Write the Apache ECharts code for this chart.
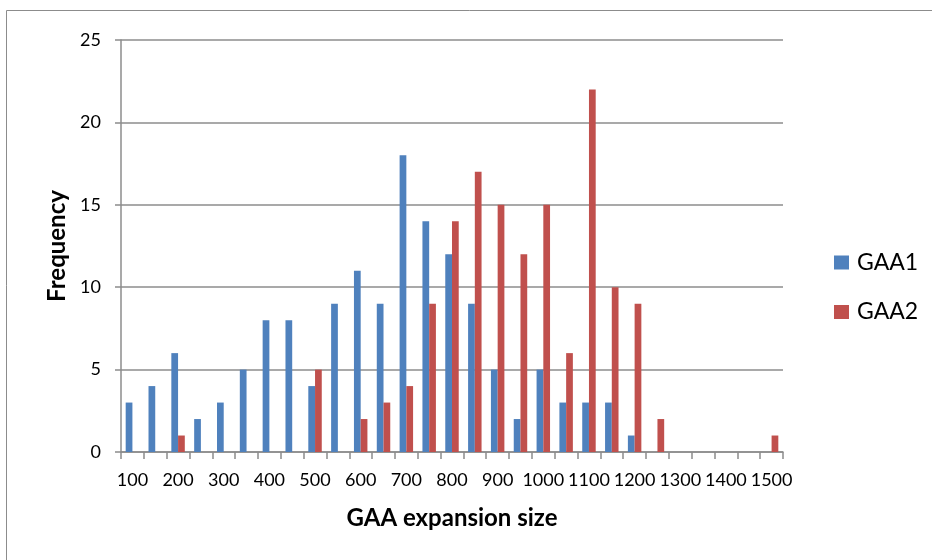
<!DOCTYPE html>
<html>
<head>
<meta charset="utf-8">
<script src="https://cdn.jsdelivr.net/npm/echarts@6/dist/echarts.min.js"></script>
<style>
  html, body { margin: 0; padding: 0; background: #fff; }
  #chart { width: 932px; height: 560px; }
</style>
</head>
<body>
<div id="chart"></div>
<script>
// GAA repeat expansion size bins (step of 50)
const sizes = ['100','150','200','250','300','350','400','450','500','550','600','650','700','750',
  '800','850','900','950','1000','1050','1100','1150','1200','1250','1300','1350','1400','1450','1500'];

// Frequency of each size for the two alleles
const gaa1 = [3, 4, 6, 2, 3, 5, 8, 8, 4, 9, 11, 9, 18, 14, 12, 9, 5, 2, 5, 3, 3, 3, 1, 0, 0, 0, 0, 0, 0];
const gaa2 = [0, 0, 1, 0, 0, 0, 0, 0, 5, 0, 2, 3, 4, 9, 14, 17, 15, 12, 15, 6, 22, 10, 9, 2, 0, 0, 0, 0, 1];

const yTicks = { min: 0, max: 25, step: 5 };

const font = 'Lato, "Open Sans", "Liberation Sans", sans-serif';
const gray = '#8c8c8c';

const chart = echarts.init(document.getElementById('chart'), null, { renderer: 'canvas' });

chart.setOption({
  animation: false,
  backgroundColor: '#fff',
  textStyle: { fontFamily: font },
  graphic: [{
    type: 'rect',
    shape: { x: 6.5, y: 10.5, width: 1200, height: 1200 },
    style: { fill: 'none', stroke: gray, lineWidth: 1 },
    silent: true
  }],
  grid: { left: 121, right: 149, top: 40, bottom: 108, containLabel: false },
  legend: {
    orient: 'vertical',
    left: 834,
    top: 251,
    padding: 0,
    itemWidth: 15,
    itemHeight: 14,
    itemGap: 26.5,
    icon: 'rect',
    textStyle: { fontFamily: font, fontSize: 23, color: '#000', padding: [0, 0, 0, 3] },
    data: ['GAA1', 'GAA2']
  },
  xAxis: {
    type: 'category',
    data: sizes,
    boundaryGap: true,
    name: 'GAA expansion size',
    nameLocation: 'middle',
    nameGap: 54,
    nameTextStyle: { fontFamily: font, fontSize: 24, fontWeight: 'bold', color: '#000' },
    axisLine: { lineStyle: { color: gray, width: 1.5 } },
    axisTick: { show: true, interval: 0, length: 7, lineStyle: { color: gray, width: 1.5 } },
    axisLabel: { interval: 1, margin: 19, fontSize: 18, color: '#000', fontFamily: font, hideOverlap: false }
  },
  yAxis: {
    type: 'value',
    min: yTicks.min,
    max: yTicks.max,
    interval: yTicks.step,
    name: 'Frequency',
    nameLocation: 'middle',
    nameRotate: 90,
    nameGap: 51,
    nameTextStyle: { fontFamily: font, fontSize: 24, fontWeight: 'bold', color: '#000' },
    axisLine: { show: true, lineStyle: { color: gray, width: 1.5 } },
    axisTick: { show: true, length: 6, lineStyle: { color: gray, width: 1.5 } },
    axisLabel: { margin: 20, fontSize: 18, color: '#000', fontFamily: font },
    splitLine: { show: true, lineStyle: { color: gray, width: 1.5 } }
  },
  series: [
    {
      name: 'GAA1',
      type: 'bar',
      data: gaa1,
      barGap: '0%',
      barCategoryGap: '41%',
      itemStyle: { color: '#4F81BD' }
    },
    {
      name: 'GAA2',
      type: 'bar',
      data: gaa2,
      barGap: '0%',
      barCategoryGap: '41%',
      itemStyle: { color: '#C0504D' }
    }
  ]
});
</script>
</body>
</html>
